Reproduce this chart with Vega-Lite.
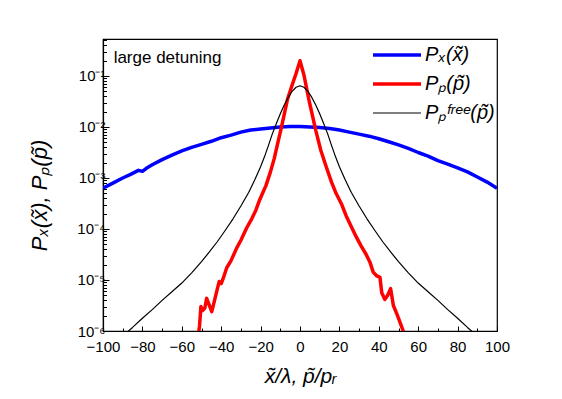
{
  "$schema": "https://vega.github.io/schema/vega-lite/v6.json",
  "width": 394,
  "height": 292,
  "autosize": {"type": "none"},
  "padding": {"left": 103, "top": 39, "right": 65, "bottom": 68},
  "background": "white",
  "config": {
    "view": {"stroke": "black", "strokeWidth": 1.2},
    "font": "Liberation Sans",
    "axis": {
      "grid": false,
      "domainColor": "black",
      "domainWidth": 1.2,
      "tickColor": "black",
      "tickWidth": 1,
      "labelColor": "black",
      "labelFont": "Liberation Sans",
      "labelFontSize": 15,
      "titleFont": "Liberation Sans",
      "titleFontSize": 21,
      "titleFontWeight": "normal",
      "titleFontStyle": "italic",
      "titleColor": "black",
      "labelOverlap": false,
      "labelFlush": false
    }
  },
  "encoding": {
    "x": {
      "type": "quantitative",
      "scale": {"domain": [-100, 100], "nice": false},
      "axis": {
        "title": "x\u0303/\u03bb, p\u0303/p\u1d63",
        "titlePadding": 9,
        "values": [-100, -90, -80, -70, -60, -50, -40, -30, -20, -10, 0, 10, 20, 30, 40, 50, 60, 70, 80, 90, 100],
        "labelExpr": "abs(datum.value) % 20 == 0 ? format(datum.value, 'd') : ''",
        "labelOverlap": false,
        "labelBound": false,
        "tickSize": {"condition": {"test": "abs(datum.value) % 20 == 0", "value": -5}, "value": -3},
        "labelPadding": 13
      }
    },
    "y": {
      "type": "quantitative",
      "scale": {"type": "log", "domain": [1e-6, 0.5314], "nice": false},
      "axis": {
        "title": "P\u2093(x\u0303), P\u209a(p\u0303)",
        "titleFontSize": 22,
        "titlePadding": 25,
        "titleY": 156,
        "values": [1e-6, 2e-6, 3e-6, 4e-6, 5e-6, 6e-6, 7e-6, 8e-6, 9e-6, 1e-5, 2e-5, 3e-5, 4e-5, 5e-5, 6e-5, 7e-5, 8e-5, 9e-5, 1e-4, 2e-4, 3e-4, 4e-4, 5e-4, 6e-4, 7e-4, 8e-4, 9e-4, 1e-3, 2e-3, 3e-3, 4e-3, 5e-3, 6e-3, 7e-3, 8e-3, 9e-3, 1e-2, 2e-2, 3e-2, 4e-2, 5e-2, 6e-2, 7e-2, 8e-2, 9e-2, 1e-1, 2e-1, 3e-1, 4e-1, 5e-1],
        "labelExpr": "abs(log(datum.value)/LN10 - round(log(datum.value)/LN10)) < 0.01 ? '10' + ['\u2070','\u207b\u00b9','\u207b\u00b2','\u207b\u00b3','\u207b\u2074','\u207b\u2075','\u207b\u2076'][-round(log(datum.value)/LN10)] : ''",
        "labelOverlap": false,
        "tickSize": {"condition": {"test": "abs(log(datum.value)/LN10 - round(log(datum.value)/LN10)) < 0.01", "value": -6}, "value": -3.5},
        "labelPadding": 4
      }
    }
  },
  "layer": [
    {
      "data": {
        "values": [
          {"series": "x", "x": -100, "y": 0.000631},
          {"series": "x", "x": -95, "y": 0.000794},
          {"series": "x", "x": -90, "y": 0.001},
          {"series": "x", "x": -86, "y": 0.001175},
          {"series": "x", "x": -84, "y": 0.001288},
          {"series": "x", "x": -82, "y": 0.001413},
          {"series": "x", "x": -80, "y": 0.001349},
          {"series": "x", "x": -78, "y": 0.001549},
          {"series": "x", "x": -75, "y": 0.00182},
          {"series": "x", "x": -70, "y": 0.002291},
          {"series": "x", "x": -65, "y": 0.002818},
          {"series": "x", "x": -60, "y": 0.003388},
          {"series": "x", "x": -55, "y": 0.003981},
          {"series": "x", "x": -50, "y": 0.004571},
          {"series": "x", "x": -45, "y": 0.005248},
          {"series": "x", "x": -40, "y": 0.006166},
          {"series": "x", "x": -35, "y": 0.006918},
          {"series": "x", "x": -30, "y": 0.007943},
          {"series": "x", "x": -25, "y": 0.00871},
          {"series": "x", "x": -20, "y": 0.00912},
          {"series": "x", "x": -15, "y": 0.00955},
          {"series": "x", "x": -10, "y": 0.01},
          {"series": "x", "x": -5, "y": 0.010233},
          {"series": "x", "x": 0, "y": 0.010233},
          {"series": "x", "x": 5, "y": 0.01},
          {"series": "x", "x": 10, "y": 0.009772},
          {"series": "x", "x": 15, "y": 0.009333},
          {"series": "x", "x": 20, "y": 0.00871},
          {"series": "x", "x": 25, "y": 0.007943},
          {"series": "x", "x": 30, "y": 0.007244},
          {"series": "x", "x": 35, "y": 0.006607},
          {"series": "x", "x": 40, "y": 0.005888},
          {"series": "x", "x": 45, "y": 0.005129},
          {"series": "x", "x": 50, "y": 0.004467},
          {"series": "x", "x": 55, "y": 0.003802},
          {"series": "x", "x": 60, "y": 0.003162},
          {"series": "x", "x": 65, "y": 0.002692},
          {"series": "x", "x": 70, "y": 0.002188},
          {"series": "x", "x": 75, "y": 0.001862},
          {"series": "x", "x": 80, "y": 0.001585},
          {"series": "x", "x": 85, "y": 0.001318},
          {"series": "x", "x": 90, "y": 0.001047},
          {"series": "x", "x": 95, "y": 0.000832},
          {"series": "x", "x": 100, "y": 0.000631},

          {"series": "p", "x": -52.0, "y": 6.31e-7},
          {"series": "p", "x": -51.0, "y": 1.259e-6},
          {"series": "p", "x": -50.3, "y": 3.02e-6},
          {"series": "p", "x": -49.5, "y": 2.512e-6},
          {"series": "p", "x": -48.3, "y": 2.818e-6},
          {"series": "p", "x": -47.4, "y": 4.365e-6},
          {"series": "p", "x": -46.2, "y": 3.311e-6},
          {"series": "p", "x": -44.8, "y": 2.399e-6},
          {"series": "p", "x": -43.5, "y": 3.802e-6},
          {"series": "p", "x": -42.0, "y": 6.607e-6},
          {"series": "p", "x": -41.0, "y": 9.333e-6},
          {"series": "p", "x": -40.0, "y": 8.511e-6},
          {"series": "p", "x": -39.0, "y": 1.072e-5},
          {"series": "p", "x": -37.2, "y": 1.738e-5},
          {"series": "p", "x": -35.0, "y": 2.399e-5},
          {"series": "p", "x": -32.1, "y": 4.266e-5},
          {"series": "p", "x": -30.0, "y": 6.026e-5},
          {"series": "p", "x": -27.1, "y": 0.0001047},
          {"series": "p", "x": -24.5, "y": 0.0001585},
          {"series": "p", "x": -22.4, "y": 0.0002344},
          {"series": "p", "x": -20.5, "y": 0.0003715},
          {"series": "p", "x": -17.3, "y": 0.0007079},
          {"series": "p", "x": -15.0, "y": 0.001318},
          {"series": "p", "x": -13.1, "y": 0.002399},
          {"series": "p", "x": -11.5, "y": 0.004467},
          {"series": "p", "x": -9.7, "y": 0.008913},
          {"series": "p", "x": -8.0, "y": 0.01778},
          {"series": "p", "x": -6.3, "y": 0.03548},
          {"series": "p", "x": -4.2, "y": 0.0631},
          {"series": "p", "x": -2.0, "y": 0.1122},
          {"series": "p", "x": 0, "y": 0.1995},
          {"series": "p", "x": 2.0, "y": 0.1047},
          {"series": "p", "x": 4.7, "y": 0.03162},
          {"series": "p", "x": 8.1, "y": 0.008318},
          {"series": "p", "x": 10.5, "y": 0.003548},
          {"series": "p", "x": 13.3, "y": 0.00166},
          {"series": "p", "x": 16.0, "y": 0.0008318},
          {"series": "p", "x": 18.3, "y": 0.0005012},
          {"series": "p", "x": 21.2, "y": 0.000302},
          {"series": "p", "x": 23.4, "y": 0.000182},
          {"series": "p", "x": 26.0, "y": 0.0001122},
          {"series": "p", "x": 28.5, "y": 7.079e-5},
          {"series": "p", "x": 31.0, "y": 4.677e-5},
          {"series": "p", "x": 33.6, "y": 3.162e-5},
          {"series": "p", "x": 35.5, "y": 2.239e-5},
          {"series": "p", "x": 37.2, "y": 1.413e-5},
          {"series": "p", "x": 39.0, "y": 1.202e-5},
          {"series": "p", "x": 40.6, "y": 1.122e-5},
          {"series": "p", "x": 41.5, "y": 5.623e-6},
          {"series": "p", "x": 43.1, "y": 4.169e-6},
          {"series": "p", "x": 44.5, "y": 5.012e-6},
          {"series": "p", "x": 46.0, "y": 6.761e-6},
          {"series": "p", "x": 47.4, "y": 3.162e-6},
          {"series": "p", "x": 49.0, "y": 2.239e-6},
          {"series": "p", "x": 50.5, "y": 1.585e-6},
          {"series": "p", "x": 52.4, "y": 1.0e-6},
          {"series": "p", "x": 53.0, "y": 7.943e-7},

          {"series": "free", "x": -90, "y": 7.943e-7},
          {"series": "free", "x": -85, "y": 1.175e-6},
          {"series": "free", "x": -80, "y": 1.778e-6},
          {"series": "free", "x": -75, "y": 2.63e-6},
          {"series": "free", "x": -70, "y": 3.981e-6},
          {"series": "free", "x": -65, "y": 5.888e-6},
          {"series": "free", "x": -60, "y": 8.71e-6},
          {"series": "free", "x": -55, "y": 1.38e-5},
          {"series": "free", "x": -50, "y": 2.291e-5},
          {"series": "free", "x": -46, "y": 3.548e-5},
          {"series": "free", "x": -42, "y": 5.623e-5},
          {"series": "free", "x": -38, "y": 9.333e-5},
          {"series": "free", "x": -34, "y": 0.0001585},
          {"series": "free", "x": -30, "y": 0.0002818},
          {"series": "free", "x": -26, "y": 0.0005248},
          {"series": "free", "x": -23, "y": 0.000912},
          {"series": "free", "x": -20, "y": 0.00166},
          {"series": "free", "x": -18, "y": 0.00263},
          {"series": "free", "x": -16, "y": 0.004365},
          {"series": "free", "x": -14, "y": 0.007413},
          {"series": "free", "x": -12, "y": 0.01175},
          {"series": "free", "x": -10, "y": 0.0182},
          {"series": "free", "x": -8, "y": 0.02692},
          {"series": "free", "x": -6, "y": 0.03802},
          {"series": "free", "x": -4, "y": 0.05012},
          {"series": "free", "x": -2, "y": 0.06026},
          {"series": "free", "x": 0, "y": 0.06457},
          {"series": "free", "x": 2, "y": 0.06026},
          {"series": "free", "x": 4, "y": 0.05012},
          {"series": "free", "x": 6, "y": 0.03802},
          {"series": "free", "x": 8, "y": 0.02692},
          {"series": "free", "x": 10, "y": 0.0182},
          {"series": "free", "x": 12, "y": 0.01175},
          {"series": "free", "x": 14, "y": 0.007413},
          {"series": "free", "x": 16, "y": 0.004365},
          {"series": "free", "x": 18, "y": 0.00263},
          {"series": "free", "x": 20, "y": 0.00166},
          {"series": "free", "x": 23, "y": 0.000912},
          {"series": "free", "x": 26, "y": 0.0005248},
          {"series": "free", "x": 30, "y": 0.0002818},
          {"series": "free", "x": 34, "y": 0.0001585},
          {"series": "free", "x": 38, "y": 9.333e-5},
          {"series": "free", "x": 42, "y": 5.623e-5},
          {"series": "free", "x": 46, "y": 3.548e-5},
          {"series": "free", "x": 50, "y": 2.291e-5},
          {"series": "free", "x": 55, "y": 1.38e-5},
          {"series": "free", "x": 60, "y": 8.71e-6},
          {"series": "free", "x": 65, "y": 5.888e-6},
          {"series": "free", "x": 70, "y": 3.981e-6},
          {"series": "free", "x": 75, "y": 2.63e-6},
          {"series": "free", "x": 80, "y": 1.778e-6},
          {"series": "free", "x": 85, "y": 1.175e-6},
          {"series": "free", "x": 90, "y": 7.943e-7}
        ]
      },
      "mark": {"type": "line", "clip": true, "strokeJoin": "round"},
      "encoding": {
        "x": {"field": "x"},
        "y": {"field": "y"},
        "color": {
          "field": "series",
          "type": "nominal",
          "scale": {"domain": ["x", "p", "free"], "range": ["#0000ff", "#ff0000", "#000000"]},
          "legend": {
            "title": null,
            "orient": "none",
            "legendX": 284,
            "legendY": 6,
            "labelExpr": "datum.value == 'x' ? 'P\u2093(x\u0303)' : datum.value == 'p' ? 'P\u209a(p\u0303)' : 'P\u209a\u1da0\u02b3\u1d49\u1d49(p\u0303)'",
            "labelFontSize": 20,
            "labelFontStyle": "italic",
            "labelFont": "Liberation Sans",
            "labelColor": "black",
            "labelLimit": 300,
            "symbolType": "M-2.4,0H2.4",
            "symbolSize": 400,
            "symbolFillColor": "transparent",
            "rowPadding": 9,
            "labelOffset": 18,
            "encode": {
              "symbols": {
                "update": {
                  "strokeWidth": {"signal": "datum.value == 'free' ? 1.2 : 3.5"}
                }
              }
            }
          }
        },
        "strokeWidth": {
          "condition": {"test": "datum.series == 'free'", "value": 1.2},
          "value": 3.5
        }
      }
    },
    {
      "data": {"values": [{}]},
      "mark": {"type": "text", "align": "left", "baseline": "middle", "fontSize": 17, "font": "Liberation Sans", "color": "black", "text": "large detuning"},
      "encoding": {
        "x": {"datum": -94.6},
        "y": {"datum": 0.225}
      }
    }
  ]
}
